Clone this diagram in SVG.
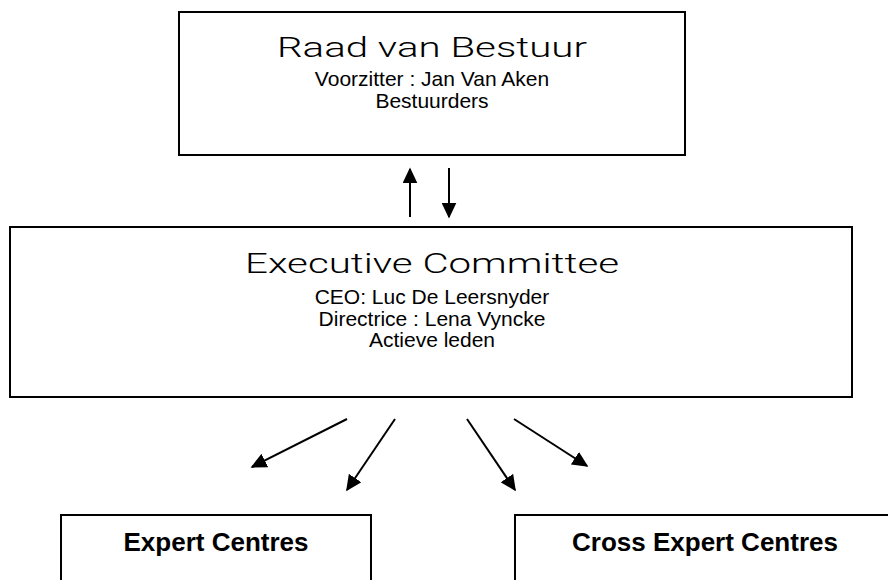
<svg xmlns="http://www.w3.org/2000/svg" width="888" height="580" viewBox="0 0 888 580">
<style>
.box{fill:#fff;stroke:#000;stroke-width:2}
.title{font-family:Roboto,"DejaVu Sans","Liberation Sans",sans-serif;font-size:28px;font-weight:300;text-anchor:middle;fill:#000}
.sub{font-family:"Liberation Sans",Arial,sans-serif;font-size:21px;text-anchor:middle;fill:#000}
.bold{font-family:"Liberation Sans",Arial,sans-serif;font-size:26px;font-weight:bold;text-anchor:middle;fill:#000}
.conn{stroke:#000;stroke-width:2;fill:none;marker-end:url(#ah)}
</style>
<defs>
<marker id="ah" viewBox="0 0 10 10" refX="9" refY="5" markerWidth="16" markerHeight="15" markerUnits="userSpaceOnUse" orient="auto" preserveAspectRatio="none">
<path d="M0,0 L10,5 L0,10 Z" fill="#000"/>
</marker>
</defs>
<rect width="888" height="580" fill="#fff"/>
<g id="raad">
<rect class="box" x="179" y="12" width="506" height="143"/>
<text class="title" x="432" y="57" textLength="310" lengthAdjust="spacingAndGlyphs">Raad van Bestuur</text>
<text class="sub" x="432" y="86">Voorzitter : Jan Van Aken</text>
<text class="sub" x="432" y="108">Bestuurders</text>
</g>
<g id="exec">
<rect class="box" x="10" y="227" width="842" height="170"/>
<text class="title" x="432" y="273" textLength="374" lengthAdjust="spacingAndGlyphs">Executive Committee</text>
<text class="sub" x="432" y="304">CEO: Luc De Leersnyder</text>
<text class="sub" x="432" y="326">Directrice : Lena Vyncke</text>
<text class="sub" x="432" y="347">Actieve leden</text>
</g>
<g id="expert">
<rect class="box" x="61" y="515" width="310" height="90"/>
<text class="bold" x="216" y="551">Expert Centres</text>
</g>
<g id="cross">
<rect class="box" x="515" y="515" width="390" height="90"/>
<text class="bold" x="705" y="551">Cross Expert Centres</text>
</g>
<g id="connectors">
<line class="conn" x1="410" y1="217" x2="410" y2="169"/>
<line class="conn" x1="449" y1="168" x2="449" y2="217"/>
<line class="conn" x1="347" y1="419" x2="252" y2="467"/>
<line class="conn" x1="395" y1="419" x2="347" y2="490"/>
<line class="conn" x1="467" y1="419" x2="515" y2="490"/>
<line class="conn" x1="514" y1="419" x2="587" y2="466"/>
</g>
</svg>
